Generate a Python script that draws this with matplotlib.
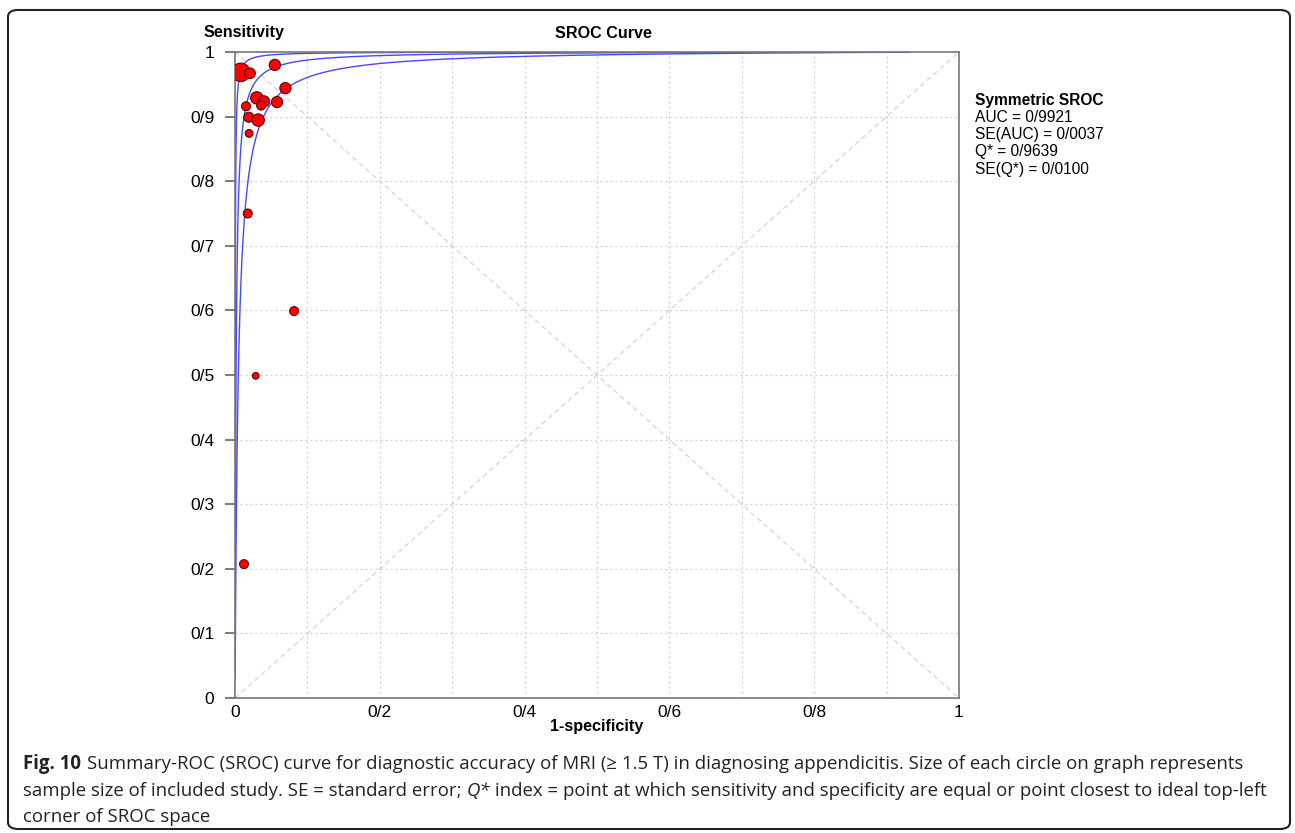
import numpy as np
import matplotlib.pyplot as plt
from matplotlib.patches import FancyBboxPatch

# study points
fpr = [0.0079, 0.0207, 0.055, 0.0696, 0.030, 0.040, 0.036, 0.058,
       0.0152, 0.019, 0.032, 0.0194, 0.0175, 0.0816, 0.0286, 0.0124]
sens = [0.9685, 0.967, 0.980, 0.944, 0.929, 0.9235, 0.917, 0.9225,
        0.916, 0.899, 0.8946, 0.874, 0.750, 0.599, 0.4987, 0.2073]
# relative study weight (circle area)
weight = [272, 90, 100, 100, 121, 100, 64, 100, 64, 81, 121, 49, 64, 64, 36, 64]

# symmetric SROC: summary odds ratio from Q*, bounds
q_star = 0.9639
dor_mid = (q_star / (1 - q_star)) ** 2
dor_hi = 4200
dor_lo = 220

stats = ['AUC = 0/9921', 'SE(AUC) = 0/0037', 'Q* = 0/9639', 'SE(Q*) = 0/0100']
xticks = [0, 0.2, 0.4, 0.6, 0.8, 1]
xlabels = ['0', '0/2', '0/4', '0/6', '0/8', '1']
yticks = [0, 0.1, 0.2, 0.3, 0.4, 0.5, 0.6, 0.7, 0.8, 0.9, 1]
ylabels = ['0', '0/1', '0/2', '0/3', '0/4', '0/5', '0/6', '0/7', '0/8', '0/9', '1']

plt.rcParams['font.family'] = ['Liberation Sans', 'DejaVu Sans']

fig = plt.figure(figsize=(12.95, 8.33), dpi=100)
ax = fig.add_axes([0.1815, 0.162, 0.559, 0.7756])

# grid
for g in np.arange(0.1, 1.0, 0.1):
    ax.axvline(g, color='#cccccc', lw=0.9, ls=(0, (1.5, 2.5)), zorder=0)
    ax.axhline(g, color='#cccccc', lw=0.9, ls=(0, (1.5, 2.5)), zorder=0)
ax.plot([0, 1], [0, 1], color='#d4d4d4', lw=0.9, ls=(0, (4, 3)), zorder=0)
ax.plot([0, 1], [1, 0], color='#d4d4d4', lw=0.9, ls=(0, (4, 3)), zorder=0)

# curves
x = np.concatenate([np.geomspace(0.00015, 0.01, 200), np.linspace(0.01, 0.931, 400)])
for dor in [dor_lo, dor_mid, dor_hi]:
    odds = dor * x / (1 - x)
    ax.plot(x, odds / (1 + odds), color='#4848ff', lw=1.0, zorder=2)

ax.scatter(fpr, sens, s=np.array(weight) * 0.66, color='#ff0000',
           edgecolor='#4a0000', linewidth=0.7, zorder=3)

ax.set_xlim(0, 1)
ax.set_ylim(0, 1)
ax.set_xticks(xticks)
ax.set_xticklabels(xlabels, fontsize=12.5)
ax.set_yticks(yticks)
ax.set_yticklabels(ylabels, fontsize=12.5)
ax.tick_params(axis='x', length=0, pad=5)
ax.tick_params(axis='y', length=7, width=1.2, color='#666666', pad=8)
for sp in ax.spines.values():
    sp.set_color('#777777')
    sp.set_linewidth(1.2)

fig.text(244 / 1295, 1 - 33 / 833, 'Sensitivity', fontsize=11.6, fontweight='bold',
         ha='center', va='center')
fig.text(603 / 1295, 1 - 33 / 833, 'SROC Curve', fontsize=11.6, fontweight='bold',
         ha='center', va='center')
fig.text(597 / 1295, 1 - 727 / 833, '1-specificity', fontsize=11.6, fontweight='bold',
         ha='center', va='center')

fig.text(975 / 1295, 1 - 100 / 833, 'Symmetric SROC', fontsize=11.2, fontweight='bold',
         ha='left', va='center')
for i, s in enumerate(stats):
    fig.text(975 / 1295, 1 - (117.3 + 17.3 * i) / 833, s, fontsize=11.2,
             ha='left', va='center')

# outer rounded frame
frame = FancyBboxPatch((8 / 1295, 4 / 833), 1282 / 1295, 819 / 833,
                       boxstyle='round,pad=0,rounding_size=0.008',
                       transform=fig.transFigure, fill=False, ec='#222222', lw=1.5)
fig.patches.append(frame)

# caption
cap = dict(fontsize=13.4, family=['Open Sans', 'DejaVu Sans'], color='#222222', va='baseline')
x0 = 23 / 1295
t = fig.text(x0, 1 - 769 / 833, 'Fig. 10', fontweight='bold', **cap)
fig.canvas.draw()
r = fig.canvas.get_renderer()
w = t.get_window_extent(r).width
fig.text(x0 + (w + 6) / 1295, 1 - 769 / 833,
         'Summary-ROC (SROC) curve for diagnostic accuracy of MRI (\u2265 1.5 T) in diagnosing '
         'appendicitis. Size of each circle on graph represents', **cap)
t1 = fig.text(x0, 1 - 796 / 833, 'sample size of included study. SE = standard error; ', **cap)
w1 = t1.get_window_extent(r).width
t2 = fig.text(x0 + w1 / 1295, 1 - 796 / 833, 'Q*', style='italic', **cap)
w2 = t2.get_window_extent(r).width
fig.text(x0 + (w1 + w2) / 1295, 1 - 796 / 833,
         ' index = point at which sensitivity and specificity are equal or point closest to ideal top-left',
         **cap)
fig.text(x0, 1 - 822 / 833, 'corner of SROC space', **cap)

fig.savefig('out.png', dpi=100)
